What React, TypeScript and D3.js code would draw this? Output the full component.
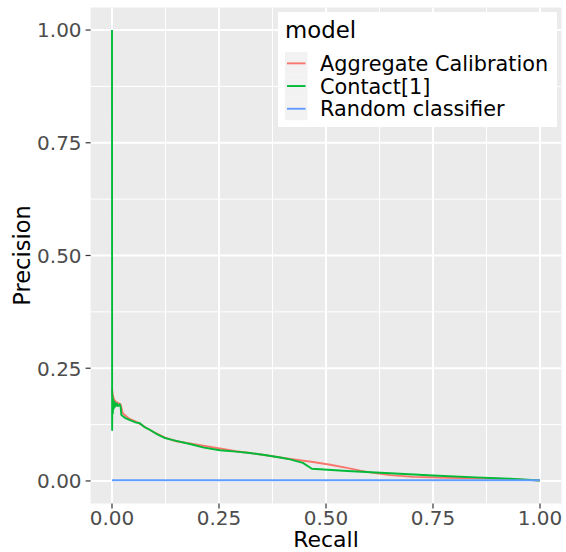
import React from "react";
import * as d3 from "d3";

const seriesNames = ["Aggregate Calibration", "Contact[1]", "Random classifier"];
const seriesColors = ["#F8766D", "#00BA38", "#619CFF"];

const aggRecall = [0, 0.002, 0.005, 0.01, 0.02, 0.025, 0.04, 0.06, 0.08, 0.1, 0.124, 0.15, 0.182, 0.22, 0.252, 0.29, 0.322, 0.36, 0.393, 0.43, 0.47, 0.51, 0.549, 0.58, 0.61, 0.65, 0.704, 0.78, 0.86, 0.93, 1.0];
const aggPrecision = [0.205, 0.19, 0.18, 0.175, 0.17, 0.15, 0.138, 0.13, 0.118, 0.107, 0.096, 0.088, 0.083, 0.077, 0.072, 0.066, 0.062, 0.057, 0.052, 0.047, 0.042, 0.036, 0.029, 0.023, 0.018, 0.013, 0.009, 0.007, 0.006, 0.004, 0.001];

const contactRecall = [0, 0.0003, 0.001, 0.002, 0.003, 0.004, 0.006, 0.008, 0.011, 0.014, 0.018, 0.02, 0.022, 0.03, 0.042, 0.055, 0.065, 0.075, 0.089, 0.105, 0.124, 0.15, 0.182, 0.215, 0.252, 0.29, 0.322, 0.36, 0.393, 0.416, 0.446, 0.467, 0.55, 0.65, 0.75, 0.85, 0.93, 1.0];
const contactPrecision = [1.0, 0.113, 0.19, 0.15, 0.18, 0.16, 0.175, 0.165, 0.172, 0.166, 0.17, 0.165, 0.146, 0.14, 0.135, 0.13, 0.128, 0.12, 0.113, 0.104, 0.095, 0.089, 0.082, 0.074, 0.068, 0.065, 0.062, 0.057, 0.052, 0.048, 0.04, 0.027, 0.022, 0.017, 0.012, 0.008, 0.005, 0.001];

const randomRecall = [0, 1];
const randomPrecision = [0.0015, 0.0015];

const majorTicks = [0, 0.25, 0.5, 0.75, 1.0];
const minorTicks = [0.125, 0.375, 0.625, 0.875];
const tickLabels = ["0.00", "0.25", "0.50", "0.75", "1.00"];

const W = 566;
const H = 552;
const FONT = "DejaVu Sans";

export default function App() {
  const x = d3.scaleLinear().domain([-0.05, 1.05]).range([90.6, 561.4]);
  const y = d3.scaleLinear().domain([-0.05, 1.05]).range([503.5, 7.5]);
  const line = d3
    .line<[number, number]>()
    .x((d) => x(d[0]))
    .y((d) => y(d[1]));

  const series = [
    aggRecall.map((r, i) => [r, aggPrecision[i]] as [number, number]),
    contactRecall.map((r, i) => [r, contactPrecision[i]] as [number, number]),
    randomRecall.map((r, i) => [r, randomPrecision[i]] as [number, number]),
  ];

  const [px0, px1] = x.range();
  const [py0, py1] = y.range();

  const legendX = 278;
  const legendY = 12;
  const keyH = 22.7;
  const keyTop = 52;

  return (
    <svg
      width={W}
      height={H}
      style={{ position: "absolute", left: 0, top: 0, background: "#fff" }}
      fontFamily={FONT}
    >
      <rect x={0} y={0} width={W} height={H} fill="#fff" />
      <rect x={px0} y={py1} width={px1 - px0} height={py0 - py1} fill="#EBEBEB" />
      {minorTicks.map((t) => (
        <g key={"mn" + t}>
          <line x1={x(t)} x2={x(t)} y1={py1} y2={py0} stroke="#fff" strokeWidth={1} />
          <line x1={px0} x2={px1} y1={y(t)} y2={y(t)} stroke="#fff" strokeWidth={1} />
        </g>
      ))}
      {majorTicks.map((t) => (
        <g key={"mj" + t}>
          <line x1={x(t)} x2={x(t)} y1={py1} y2={py0} stroke="#fff" strokeWidth={2} />
          <line x1={px0} x2={px1} y1={y(t)} y2={y(t)} stroke="#fff" strokeWidth={2} />
        </g>
      ))}
      {series.map((s, i) => (
        <path
          key={seriesNames[i]}
          d={line(s) || ""}
          fill="none"
          stroke={seriesColors[i]}
          strokeWidth={1.9}
          strokeLinejoin="round"
        />
      ))}
      {majorTicks.map((t, i) => (
        <g key={"yt" + t}>
          <line x1={px0 - 5} x2={px0} y1={y(t)} y2={y(t)} stroke="#333" strokeWidth={1.2} />
          <text x={px0 - 9} y={y(t) + 7.3} textAnchor="end" fontSize={20} fill="#4D4D4D">
            {tickLabels[i]}
          </text>
        </g>
      ))}
      {majorTicks.map((t, i) => (
        <g key={"xt" + t}>
          <line x1={x(t)} x2={x(t)} y1={py0} y2={py0 + 5} stroke="#333" strokeWidth={1.2} />
          <text x={x(t)} y={525} textAnchor="middle" fontSize={20} fill="#4D4D4D">
            {tickLabels[i]}
          </text>
        </g>
      ))}
      <text x={(px0 + px1) / 2} y={547} textAnchor="middle" fontSize={22} fill="#000">
        Recall
      </text>
      <text
        transform={`translate(30,${(py0 + py1) / 2}) rotate(-90)`}
        textAnchor="middle"
        fontSize={22.5}
        fill="#000"
      >
        Precision
      </text>
      <rect x={legendX} y={legendY} width={279} height={115} fill="#fff" />
      <text x={285} y={38.3} fontSize={22.8} fill="#000">
        model
      </text>
      {seriesNames.map((n, i) => {
        const top = keyTop + i * keyH;
        const cy = top + keyH / 2;
        return (
          <g key={"lg" + n}>
            <rect x={285} y={top} width={22.5} height={keyH} fill="#F2F2F2" />
            <line x1={287} x2={305.5} y1={cy} y2={cy} stroke={seriesColors[i]} strokeWidth={1.9} />
            <text x={320} y={cy + 7.5} fontSize={20.8} fill="#000">
              {n}
            </text>
          </g>
        );
      })}
    </svg>
  );
}
